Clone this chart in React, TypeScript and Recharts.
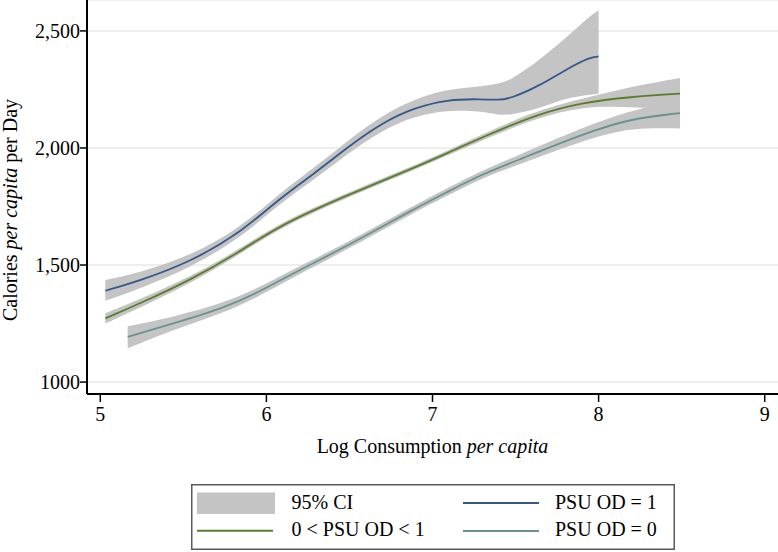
import type { FC } from 'react'
import { Area, CartesianGrid, ComposedChart, Line, XAxis, YAxis } from 'recharts'

// PSU OD = 1
const blueX = [5.03, 5.25, 5.54, 5.84, 6.08, 6.29, 6.49, 6.69, 6.89, 7.09, 7.29, 7.4, 7.47, 7.63, 7.81, 7.95, 8.0]
const blueMean = [1390, 1436, 1513, 1635, 1785, 1891, 2004, 2105, 2172, 2207, 2209, 2204, 2212, 2260, 2338, 2388, 2391]
const blueLo = [1347, 1402, 1488, 1613, 1763, 1866, 1976, 2073, 2136, 2162, 2158, 2140, 2142, 2165, 2215, 2228, 2232]
const blueHi = [1436, 1470, 1538, 1657, 1807, 1916, 2032, 2137, 2208, 2252, 2262, 2275, 2290, 2367, 2474, 2566, 2588]

// 0 < PSU OD < 1
const greenX = [5.03, 5.24, 5.54, 5.84, 6.08, 6.49, 6.89, 7.11, 7.29, 7.61, 7.91, 8.19, 8.49]
const greenMean = [1272, 1336, 1435, 1556, 1670, 1800, 1915, 1985, 2042, 2140, 2196, 2218, 2232]
const greenLo = [1250, 1318, 1421, 1544, 1659, 1790, 1905, 1974, 2030, 2125, 2180, 2175, 2165]
const greenHi = [1294, 1354, 1449, 1568, 1681, 1810, 1925, 1996, 2054, 2158, 2212, 2262, 2299]

// PSU OD = 0
const tealX = [5.165, 5.44, 5.74, 5.94, 6.14, 6.49, 6.89, 7.11, 7.29, 7.51, 7.91, 8.19, 8.49]
const tealMean = [1193, 1251, 1315, 1379, 1457, 1582, 1740, 1819, 1885, 1947, 2061, 2125, 2149]
const tealLo = [1144, 1224, 1295, 1360, 1440, 1567, 1725, 1803, 1868, 1927, 2033, 2088, 2083]
const tealHi = [1238, 1278, 1337, 1398, 1474, 1597, 1755, 1835, 1902, 1967, 2089, 2160, 2205]

const xTicks = [5, 6, 7, 8, 9]
const yTicks = [1000, 1500, 2000, 2500]
const yTickLabels = ['1000', '1,500', '2,000', '2,500']

const FONT = '"Liberation Serif", "Times New Roman", serif'
const BAND = '#c4c4c4'
const BLUE = '#34598a'
const GREEN = '#5a7d2c'
const TEAL = '#6a9292'

const toRows = (xs: number[], mean: number[], lo: number[], hi: number[]) =>
  xs.map((x, i) => ({ x, mean: mean[i], band: [lo[i], hi[i]] }))

const blueRows = toRows(blueX, blueMean, blueLo, blueHi)
const greenRows = toRows(greenX, greenMean, greenLo, greenHi)
const tealRows = toRows(tealX, tealMean, tealLo, tealHi)

const YTitle: FC = () => (
  <text transform="translate(17,210) rotate(-90)" textAnchor="middle" fontFamily={FONT} fontSize={20} fill="#000">
    <tspan>Calories </tspan>
    <tspan fontStyle="italic">per capita</tspan>
    <tspan> per Day</tspan>
  </text>
)

const XTitle: FC = () => (
  <text x={432.5} y={453} textAnchor="middle" fontFamily={FONT} fontSize={20} fill="#000">
    <tspan>Log Consumption </tspan>
    <tspan fontStyle="italic">per capita</tspan>
  </text>
)

const LegendBox: FC = () => (
  <svg width={484} height={66} style={{ position: 'absolute', left: 191, top: 484 }}>
    <rect x={0.75} y={0.75} width={482.5} height={64.5} fill="#fff" stroke="#5a5a5a" strokeWidth={1.5} />
    <rect x={6} y={8.5} width={78} height={21.5} fill={BAND} />
    <line x1={6} x2={82} y1={46.7} y2={46.7} stroke={GREEN} strokeWidth={2} />
    <line x1={272} x2={348} y1={19} y2={19} stroke={BLUE} strokeWidth={2} />
    <line x1={272} x2={348} y1={47} y2={47} stroke={TEAL} strokeWidth={2} />
    <g fontFamily={FONT} fontSize={20} fill="#000">
      <text x={100.5} y={24.5}>95% CI</text>
      <text x={100.5} y={52}>0 &lt; PSU OD &lt; 1</text>
      <text x={364} y={24.5}>PSU OD = 1</text>
      <text x={364} y={52}>PSU OD = 0</text>
    </g>
  </svg>
)

const App: FC = () => (
  <div style={{ position: 'absolute', left: 0, top: 0, width: 778, height: 552, background: '#fff' }}>
    <ComposedChart width={778} height={552} margin={{ top: 0, right: 0, bottom: 118, left: 0 }}>
      <CartesianGrid vertical={false} stroke="#e8e8e8" strokeWidth={1.5} />
      <XAxis
        type="number"
        dataKey="x"
        domain={[4.92, 9.08]}
        ticks={xTicks}
        allowDataOverflow
        height={40}
        axisLine={{ stroke: '#000', strokeWidth: 2 }}
        tickLine={{ stroke: '#000', strokeWidth: 1.5 }}
        tickSize={8}
        tickMargin={5}
        tick={{ fontFamily: FONT, fontSize: 20, fill: '#000' }}
        label={<XTitle />}
      />
      <YAxis
        type="number"
        domain={[949, 2632]}
        ticks={yTicks}
        allowDataOverflow
        width={87}
        axisLine={{ stroke: '#000', strokeWidth: 2 }}
        tickLine={{ stroke: '#000', strokeWidth: 1.5 }}
        tickSize={7}
        tickMargin={0}
        tickFormatter={(v: number) => yTickLabels[yTicks.indexOf(v)] ?? String(v)}
        tick={{ fontFamily: FONT, fontSize: 20, fill: '#000' }}
        label={<YTitle />}
      />
      <Area data={blueRows} dataKey="band" type="basis" fill={BAND} fillOpacity={1} stroke="none" isAnimationActive={false} />
      <Area data={greenRows} dataKey="band" type="basis" fill={BAND} fillOpacity={1} stroke="none" isAnimationActive={false} />
      <Area data={tealRows} dataKey="band" type="basis" fill={BAND} fillOpacity={1} stroke="none" isAnimationActive={false} />
      <Line data={blueRows} dataKey="mean" type="basis" stroke={BLUE} strokeWidth={1.8} dot={false} isAnimationActive={false} />
      <Line data={greenRows} dataKey="mean" type="basis" stroke={GREEN} strokeWidth={1.8} dot={false} isAnimationActive={false} />
      <Line data={tealRows} dataKey="mean" type="basis" stroke={TEAL} strokeWidth={1.8} dot={false} isAnimationActive={false} />
    </ComposedChart>
    <LegendBox />
  </div>
)

export default App
